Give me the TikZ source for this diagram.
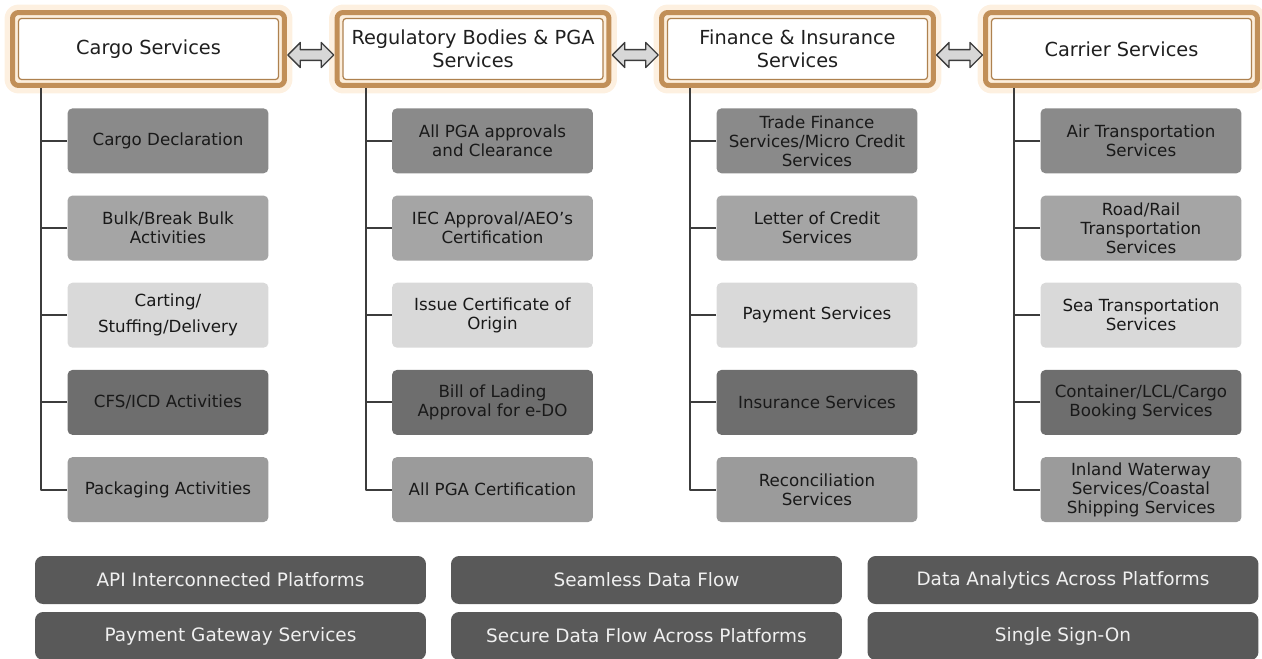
\documentclass[tikz,border=0pt]{standalone}
\usepackage{fontspec}
\setmainfont{DejaVu Sans}
\usetikzlibrary{positioning,calc,shapes.arrows}
\definecolor{hdrbrown}{RGB}{193,143,88}
\definecolor{hdrglow}{RGB}{253,240,224}
\definecolor{hdrpale}{RGB}{252,238,220}
\definecolor{trunkgray}{RGB}{60,60,60}
\definecolor{arrowfill}{RGB}{215,215,215}
\definecolor{gA}{RGB}{138,138,138}
\definecolor{gB}{RGB}{165,165,165}
\definecolor{gC}{RGB}{217,217,217}
\definecolor{gD}{RGB}{110,110,110}
\definecolor{gE}{RGB}{155,155,155}
\definecolor{gBase}{RGB}{89,89,89}
\tikzset{
  header/.style={draw=hdrbrown, line width=0.1cm, fill=hdrpale, rounded corners=0.12cm,
    minimum width=5.44cm, minimum height=1.46cm, align=center, text=black!88,
    font=\fontsize{11}{13}\selectfont,
    preaction={draw=hdrglow, line width=0.32cm},
    path picture={\draw[hdrbrown!90!black, line width=0.7pt, fill=white, rounded corners=0.06cm]
      ([shift={(0.12cm,-0.12cm)}]path picture bounding box.north west) rectangle
      ([shift={(-0.12cm,0.12cm)}]path picture bounding box.south east);}},
  sub/.style={rounded corners=0.1cm, minimum width=4.02cm, minimum height=1.3cm,
    align=center, inner sep=2pt, text=black!90, font=\fontsize{9.5}{10.8}\selectfont},
  base/.style={fill=gBase, rounded corners=0.16cm, minimum width=7.82cm, minimum height=0.96cm,
    text=white!94!black, font=\fontsize{10.5}{12}\selectfont},
  link/.style={double arrow, draw=trunkgray, fill=arrowfill, line width=0.8pt,
    minimum height=0.92cm, minimum width=0.5cm, inner sep=0.09cm, double arrow head extend=0.14cm},
  trunk/.style={draw=trunkgray, line width=1.2pt}
}
\begin{document}
\begin{tikzpicture}[x=0.02cm, y=-0.02cm, line join=round]
  \useasboundingbox (0,0) rectangle (1262,659);
  % headers
  \node[header] (cargo) at (148.5,49) {Cargo Services};
  \node[header] (reg) at (473,49) {Regulatory Bodies \& PGA\\Services};
  \node[header] (fin) at (797.5,49) {Finance \& Insurance\\Services};
  \node[header] (carrier) at (1121.5,49) {Carrier Services};
  % arrows between headers
  \node[link] (lA) at ($(cargo.east)!.5!(reg.west)+(0,6)$) {};
  \node[link] (lB) at ($(reg.east)!.5!(fin.west)+(0,6)$) {};
  \node[link] (lC) at ($(fin.east)!.5!(carrier.west)+(0,6)$) {};
  % cargo column
  \node[sub, fill=gA, below=0.4cm of cargo, xshift=0.39cm] (cargoA) {Cargo Declaration};
  \node[sub, fill=gB, below=0.43cm of cargoA] (cargoB) {Bulk/Break Bulk\\Activities};
  \node[sub, fill=gC, below=0.43cm of cargoB] (cargoC) {Carting/\\[4pt]Stuffing/Delivery};
  \node[sub, fill=gD, below=0.43cm of cargoC] (cargoD) {CFS/ICD Activities};
  \node[sub, fill=gE, below=0.43cm of cargoD] (cargoE) {Packaging Activities};
  % regulatory column
  \node[sub, fill=gA, below=0.4cm of reg, xshift=0.39cm] (regA) {All PGA approvals\\and Clearance};
  \node[sub, fill=gB, below=0.43cm of regA] (regB) {IEC Approval/AEO’s\\Certification};
  \node[sub, fill=gC, below=0.43cm of regB] (regC) {Issue Certificate of\\Origin};
  \node[sub, fill=gD, below=0.43cm of regC] (regD) {Bill of Lading\\Approval for e-DO};
  \node[sub, fill=gE, below=0.43cm of regD] (regE) {All PGA Certification};
  % finance column
  \node[sub, fill=gA, below=0.4cm of fin, xshift=0.39cm] (finA) {Trade Finance\\Services/Micro Credit\\Services};
  \node[sub, fill=gB, below=0.43cm of finA] (finB) {Letter of Credit\\Services};
  \node[sub, fill=gC, below=0.43cm of finB] (finC) {Payment Services};
  \node[sub, fill=gD, below=0.43cm of finC] (finD) {Insurance Services};
  \node[sub, fill=gE, below=0.43cm of finD] (finE) {Reconciliation\\Services};
  % carrier column
  \node[sub, fill=gA, below=0.4cm of carrier, xshift=0.39cm] (carrierA) {Air Transportation\\Services};
  \node[sub, fill=gB, below=0.43cm of carrierA] (carrierB) {Road/Rail\\Transportation\\Services};
  \node[sub, fill=gC, below=0.43cm of carrierB] (carrierC) {Sea Transportation\\Services};
  \node[sub, fill=gD, below=0.43cm of carrierC] (carrierD) {Container/LCL/Cargo\\Booking Services};
  \node[sub, fill=gE, below=0.43cm of carrierD] (carrierE) {Inland Waterway\\Services/Coastal\\Shipping Services};
  % trunks and branches
  \foreach \c in {cargo,reg,fin,carrier}{
    \coordinate (t\c) at ($(\c A.west)+(-26,0)$);
    \draw[trunk] (t\c |- \c.south) |- (\c E.west);
    \foreach \r in {A,B,C,D}
      \draw[trunk] (\c\r.west) -- (\c\r.west -| t\c);
  }
  % platform bar
  \node[base] (api) at (230.5,580) {API Interconnected Platforms};
  \node[base] (flow) at (646.5,580) {Seamless Data Flow};
  \node[base] (analytics) at (1063,580) {Data Analytics Across Platforms};
  \node[base] (gateway) at (230.5,636) {Payment Gateway Services};
  \node[base] (secure) at (646.5,636) {Secure Data Flow Across Platforms};
  \node[base] (sso) at (1063,636) {Single Sign-On};
\end{tikzpicture}
\end{document}
